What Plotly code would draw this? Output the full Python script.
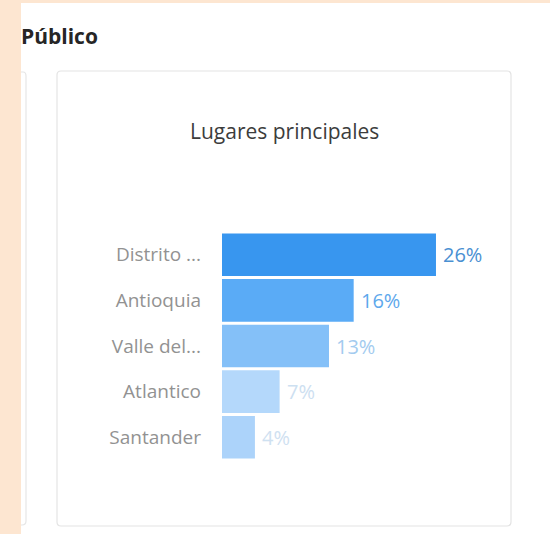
import plotly.graph_objects as go

W, H = 550, 534

# Top places data
places = ["Distrito ...", "Antioquia", "Valle del...", "Atlantico", "Santander"]
shares = [26, 16, 13, 7, 4]
bar_colors = ["#3896ef", "#5aabf6", "#84c0f8", "#b4d8fb", "#acd3fa"]
label_colors = ["#4a90d2", "#5ea8ec", "#a3cbef", "#cde0f1", "#cfe1f1"]

FONT = "Open Sans, Arial, sans-serif"


def px_x(p):
    return p / W


def px_y(p):
    return 1 - p / H


fig = go.Figure()
fig.add_trace(go.Bar(
    y=places,
    x=shares,
    orientation="h",
    marker=dict(color=bar_colors, line=dict(width=0)),
    hoverinfo="skip",
))

# Percentage labels to the right of each bar
for place, val, col in zip(places, shares, label_colors):
    fig.add_annotation(
        x=val, y=place, xref="x", yref="y",
        text=f"{val}%", showarrow=False,
        xanchor="left", yanchor="middle", xshift=5,
        font=dict(family=FONT, size=20, color=col),
    )

shapes = [
    # white page area over the peach backdrop
    dict(type="rect", xref="paper", yref="paper",
         x0=px_x(21), x1=1.0, y0=0.0, y1=px_y(3),
         fillcolor="#ffffff", line=dict(width=0), layer="below"),
    # partial card on the left
    dict(type="path", xref="paper", yref="paper",
         path=(f"M {px_x(21)},{px_y(72)} L {px_x(23)},{px_y(72)} "
               f"Q {px_x(26)},{px_y(72)} {px_x(26)},{px_y(76)} "
               f"L {px_x(26)},{px_y(521)} Q {px_x(26)},{px_y(525)} {px_x(22)},{px_y(525)} "
               f"L {px_x(21)},{px_y(525)}"),
         line=dict(color="#e6e6e6", width=1.2), layer="below"),
    # main card
    dict(type="path", xref="paper", yref="paper",
         path=(f"M {px_x(61)},{px_y(71)} L {px_x(507)},{px_y(71)} "
               f"Q {px_x(511)},{px_y(71)} {px_x(511)},{px_y(75)} "
               f"L {px_x(511)},{px_y(522)} Q {px_x(511)},{px_y(526)} {px_x(507)},{px_y(526)} "
               f"L {px_x(61)},{px_y(526)} Q {px_x(57)},{px_y(526)} {px_x(57)},{px_y(522)} "
               f"L {px_x(57)},{px_y(75)} Q {px_x(57)},{px_y(71)} {px_x(61)},{px_y(71)} Z"),
         fillcolor="#ffffff", line=dict(color="#e4e4e4", width=1.2), layer="below"),
]

annotations_text = [
    dict(x=px_x(19), y=px_y(36), xref="paper", yref="paper",
         text="<b>Público</b>", showarrow=False, xanchor="left", yanchor="middle",
         font=dict(family=FONT, size=21, color="#262626")),
    dict(x=px_x(284), y=px_y(131), xref="paper", yref="paper",
         text="Lugares principales", showarrow=False, xanchor="center", yanchor="middle",
         font=dict(family=FONT, size=21, color="#3c3c3c")),
]
for a in annotations_text:
    fig.add_annotation(**a)

x_max = 30
fig.update_layout(
    width=W, height=H,
    margin=dict(l=0, r=0, t=0, b=0),
    paper_bgcolor="#fde6d1",
    plot_bgcolor="rgba(0,0,0,0)",
    showlegend=False,
    bargap=0.065,
    shapes=shapes,
    xaxis=dict(range=[0, x_max], domain=[px_x(222), px_x(222 + 8.23 * x_max)],
               visible=False, fixedrange=True),
    yaxis=dict(domain=[px_y(460), px_y(232)], autorange="reversed",
               showgrid=False, zeroline=False, showline=False, ticks="",
               ticklabelstandoff=20,
               tickfont=dict(family=FONT, size=19, color="#929292"),
               fixedrange=True),
)

fig.write_html("out.html")
